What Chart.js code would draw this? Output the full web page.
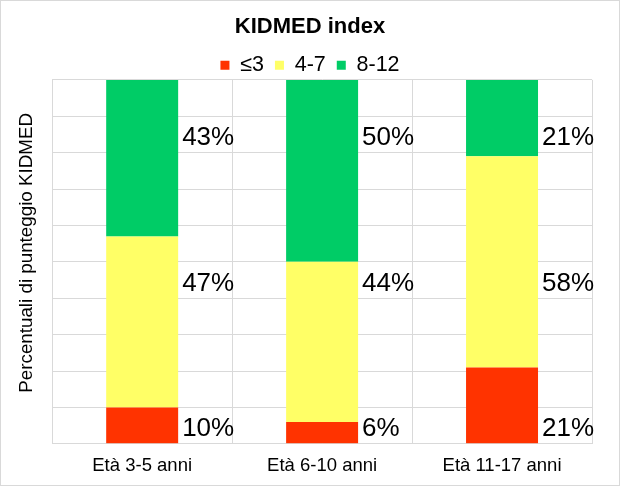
<!DOCTYPE html>
<html>
<head>
<meta charset="utf-8">
<script src="https://cdn.jsdelivr.net/npm/chart.js@4"></script>
<style>
  html, body { margin: 0; padding: 0; background: #fff; }
  #wrap { width: 620px; height: 486px; box-sizing: border-box; border: 1px solid #d9d9d9; position: relative; }
  canvas { display: block; }
</style>
</head>
<body>
<div id="wrap"><canvas id="c" width="618" height="484"></canvas></div>
<script>
const categories = ["Età 3-5 anni", "Età 6-10 anni", "Età 11-17 anni"];
const seriesNames = ["≤3", "4-7", "8-12"];
const low = [10, 6, 21];
const mid = [47, 44, 58];
const high = [43, 50, 21];
const yTicks = [0, 10, 20, 30, 40, 50, 60, 70, 80, 90, 100];
const yTitle = 'Percentuali di punteggio KIDMED';

const FONT = "'Liberation Sans', Arial, sans-serif";

const sideLabels = {
  id: 'sideLabels',
  afterDatasetsDraw(chart, args, opts) {
    const ctx = chart.ctx;
    const y = chart.scales.y;
    ctx.save();
    ctx.font = "26px " + FONT;
    ctx.fillStyle = "#000";
    ctx.textAlign = "left";
    ctx.textBaseline = "middle";
    chart.data.datasets.forEach((ds, di) => {
      const meta = chart.getDatasetMeta(di);
      meta.data.forEach((bar, i) => {
        const props = bar.getProps(['x', 'width'], true);
        const ty = y.getPixelForValue(opts.anchors[di]);
        ctx.fillText(ds.data[i] + "%", props.x + props.width / 2 + 4, ty);
      });
    });
    ctx.restore();
  }
};

const yTitleDraw = {
  id: 'yTitleDraw',
  afterDraw(chart, args, opts) {
    const ctx = chart.ctx;
    const s = chart.scales.y;
    const ca = chart.chartArea;
    ctx.save();
    ctx.translate(s.left + opts.dx, (ca.top + ca.bottom) / 2 + opts.dy);
    ctx.rotate(-Math.PI / 2);
    ctx.font = "18.8px " + FONT;
    ctx.fillStyle = "#000";
    ctx.textAlign = "center";
    ctx.textBaseline = "middle";
    ctx.fillText(yTitle, 0, 0);
    ctx.restore();
  }
};

const legendTrim = {
  id: 'legendTrim',
  beforeInit(chart) {
    const lg = chart.legend;
    if (!lg) return;
    const orig = lg.fit;
    lg.fit = function () { orig.call(this); this.height -= 6; };
  }
};

new Chart(document.getElementById('c'), {
  type: 'bar',
  data: {
    labels: categories,
    datasets: [
      { label: seriesNames[0], data: low, backgroundColor: '#FF3300' },
      { label: seriesNames[1], data: mid, backgroundColor: '#FFFF66' },
      { label: seriesNames[2], data: high, backgroundColor: '#00CC66' }
    ]
  },
  options: {
    responsive: false,
    animation: false,
    events: [],
    layout: { padding: { left: 4, right: 4, top: 4, bottom: -3 } },
    datasets: { bar: { categoryPercentage: 0.4, barPercentage: 1.0 } },
    scales: {
      x: {
        stacked: true,
        grid: { color: '#d9d9d9', offset: true, drawTicks: false },
        border: { color: '#d9d9d9' },
        ticks: { color: '#000', font: { family: FONT, size: 18.5 }, padding: 11 }
      },
      y: {
        stacked: true,
        min: 0, max: 100,
        afterBuildTicks(scale) { scale.ticks = yTicks.map(v => ({ value: v })); },
        grid: { color: '#d9d9d9', drawTicks: false },
        border: { color: '#d9d9d9' },
        ticks: { display: false },
        title: { display: true, text: yTitle, color: 'rgba(0,0,0,0)', font: { family: FONT, size: 18.5 }, padding: { top: 11, bottom: 14 } }
      },
      yRight: {
        position: 'right',
        min: 0, max: 100,
        grid: { display: false },
        border: { display: false },
        ticks: { display: false },
        afterFit(scale) { scale.width = 23; }
      }
    },
    plugins: {
      title: { display: true, text: 'KIDMED index', color: '#000', font: { family: FONT, size: 22, weight: 'bold' }, padding: { top: 9, bottom: 3 } },
      legend: {
        display: true,
        labels: { color: '#000', font: { family: FONT, size: 21.5 }, boxWidth: 9, boxHeight: 9, padding: 11 }
      },
      tooltip: { enabled: false },
      sideLabels: { anchors: [4.0, 44, 84] },
      yTitleDraw: { dx: 21.6, dy: -9 }
    }
  },
  plugins: [sideLabels, legendTrim, yTitleDraw]
});
</script>
</body>
</html>
